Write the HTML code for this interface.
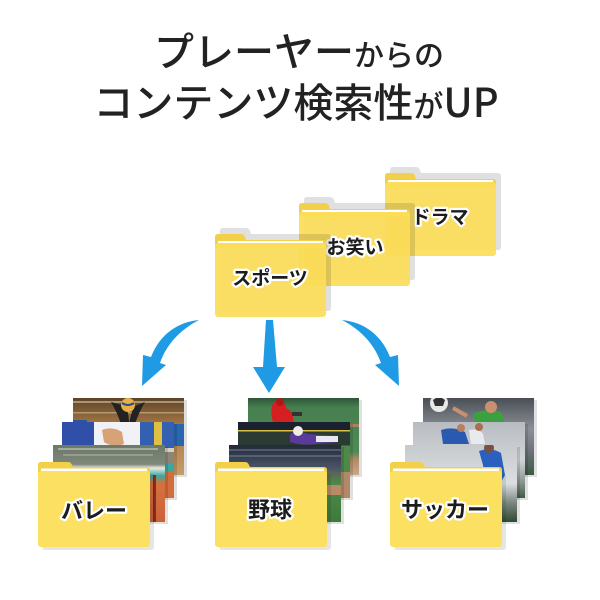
<!DOCTYPE html>
<html>
<head>
<meta charset="utf-8">
<style>
html,body{margin:0;padding:0;background:#fff;}
body{width:600px;height:600px;overflow:hidden;}
svg{display:block;}
.t{font-family:"Liberation Sans","Noto Sans CJK JP",sans-serif;font-weight:500;fill:#222;}
.up{font-family:"Noto Sans CJK JP","Liberation Sans",sans-serif;font-weight:500;}
.lbl{font-family:"Liberation Sans","Noto Sans CJK JP",sans-serif;font-weight:700;fill:#1c1c1c;stroke:#fff;stroke-width:4.5;stroke-linejoin:round;paint-order:stroke;}
</style>
</head>
<body>
<svg width="600" height="600" viewBox="0 0 600 600" xmlns="http://www.w3.org/2000/svg">
<defs>
  <g id="tf">
    <path d="M5,4 L5,-3 Q5,-6 8,-6 L31,-6 Q34,-6 35,-3 L36,0 L113,0 Q116,0 116,3 L116,74 Q116,77 113,77 L8,77 Q5,77 5,74 Z" fill="#000" fill-opacity="0.12"/>
    <path d="M0,12 L0,3 Q0,0 3,0 L26,0 Q29,0 30,3 L31,6 L108,6 Q111,6 111,9 L111,14 L0,14 Z" fill="#F2D04A"/>
    <rect x="3" y="7" width="105" height="2.5" fill="#fff"/>
    <rect x="0" y="9" width="111" height="74" rx="3" fill="#FCDD58" fill-opacity="0.92"/>
  </g>
  <g id="bf">
    <rect x="4" y="12" width="112" height="76" rx="3" fill="#000" fill-opacity="0.1"/>
    <path d="M0,12 L0,3 Q0,0 3,0 L30,0 Q33,0 34,3 L35,5 L109,5 Q112,5 112,8 L112,14 L0,14 Z" fill="#F2D04A"/>
    <rect x="3" y="6.5" width="106" height="2.5" fill="#fff"/>
    <rect x="0" y="9" width="112" height="76" rx="3" fill="#FCE062"/>
  </g>
  <linearGradient id="vb1" x1="0" y1="0" x2="0" y2="1">
    <stop offset="0" stop-color="#5e4328"/><stop offset="0.35" stop-color="#a67845"/><stop offset="1" stop-color="#c79c68"/>
  </linearGradient>
  <linearGradient id="vb3" x1="0" y1="0" x2="0" y2="1">
    <stop offset="0" stop-color="#6c7868"/><stop offset="0.25" stop-color="#7e8878"/><stop offset="0.3" stop-color="#e8e8e0"/><stop offset="0.4" stop-color="#3aa8a0"/><stop offset="0.5" stop-color="#d8703e"/><stop offset="1" stop-color="#c9623a"/>
  </linearGradient>
  <linearGradient id="bb1" x1="0" y1="0" x2="0" y2="1">
    <stop offset="0" stop-color="#2c5638"/><stop offset="0.12" stop-color="#477f50"/><stop offset="0.7" stop-color="#4f8a55"/><stop offset="0.8" stop-color="#b48a66"/><stop offset="1" stop-color="#c9a888"/>
  </linearGradient>
  <linearGradient id="bb3" x1="0" y1="0" x2="0" y2="1">
    <stop offset="0" stop-color="#222a38"/><stop offset="0.3" stop-color="#4a5468"/><stop offset="0.38" stop-color="#5c6a50"/><stop offset="0.5" stop-color="#4d8a48"/><stop offset="1" stop-color="#3e7a3c"/>
  </linearGradient>
  <linearGradient id="sb1" x1="0" y1="0" x2="0" y2="1">
    <stop offset="0" stop-color="#4a4f55"/><stop offset="0.4" stop-color="#8a9096"/><stop offset="0.7" stop-color="#6a7278"/><stop offset="1" stop-color="#3d5a40"/>
  </linearGradient>
  <linearGradient id="sb2" x1="0" y1="0" x2="0" y2="1">
    <stop offset="0" stop-color="#b8bcc0"/><stop offset="0.5" stop-color="#d0d4d8"/><stop offset="0.8" stop-color="#8a9290"/><stop offset="1" stop-color="#3d5c40"/>
  </linearGradient>
  <linearGradient id="sb3" x1="0" y1="0" x2="0" y2="1">
    <stop offset="0" stop-color="#c6cacd"/><stop offset="0.5" stop-color="#dcdfe1"/><stop offset="0.75" stop-color="#7a8680"/><stop offset="1" stop-color="#2f4a32"/>
  </linearGradient>
</defs>

<!-- Title -->
<text class="t" x="299" y="66" text-anchor="middle"><tspan font-size="40">プレーヤー</tspan><tspan font-size="30">からの</tspan></text>
<text class="t" x="296" y="117" text-anchor="middle"><tspan font-size="40">コンテンツ検索性</tspan><tspan font-size="30">が</tspan><tspan class="up" font-size="40">UP</tspan></text>

<!-- Top folders -->
<use href="#tf" x="385" y="173"/>
<text class="lbl" x="440" y="218" font-size="19" text-anchor="middle" dominant-baseline="central">ドラマ</text>
<use href="#tf" x="299" y="203"/>
<text class="lbl" x="355" y="248" font-size="19" text-anchor="middle" dominant-baseline="central">お笑い</text>
<use href="#tf" x="215" y="234"/>
<text class="lbl" x="270" y="279" font-size="19" text-anchor="middle" dominant-baseline="central">スポーツ</text>

<!-- Arrows -->
<g fill="#1E9BE4">
  <path d="M199,320 C178,322 160,334 151,357 L143,355 L142,386 L166,365 L160,363 C166,346 178,331 199,320 Z"/>
  <path d="M266,320 L273,320 L277,367 L285,367 L269,393 L253,367 L263,367 Z"/>
  <path d="M342,320 C363,322 381,334 390,357 L398,355 L399,386 L375,365 L381,363 C375,346 363,331 342,320 Z"/>
</g>

<!-- Volleyball group -->
<g>
  <rect x="76" y="400" width="111" height="77" fill="#000" fill-opacity="0.12"/>
  <svg x="73" y="398" width="111" height="77">
    <rect width="111" height="77" fill="url(#vb1)"/>
    <rect x="0" y="3" width="111" height="2" fill="#d8c6a0" opacity="0.6"/>
    <rect x="0" y="14" width="111" height="1.5" fill="#e0d0b0" opacity="0.5"/>
    <rect x="0" y="22" width="14" height="24" fill="#2a55a0"/>
    <rect x="86" y="26" width="25" height="22" fill="#2a66b0"/>
    <path d="M38,4 Q44,14 48,26 L56,26 Q56,14 52,8 Z" fill="#222"/>
    <path d="M72,4 Q66,14 62,26 L56,26 Q58,14 62,8 Z" fill="#222"/>
    <circle cx="55" cy="7" r="7" fill="#e8b040"/>
    <path d="M49,5 Q55,9 61,5" stroke="#2a4a9a" stroke-width="2" fill="none"/>
  </svg>
  <rect x="65" y="424" width="112" height="76" fill="#000" fill-opacity="0.12"/>
  <svg x="62" y="422" width="112" height="76">
    <rect width="112" height="76" fill="#d9cfc0"/>
    <rect x="0" y="0" width="32" height="34" fill="#2f4fa8"/>
    <rect x="32" y="0" width="46" height="30" fill="#f2f2f6"/>
    <path d="M40,8 Q50,4 60,10 L62,22 Q50,26 42,20 Z" fill="#d6a276"/>
    <rect x="78" y="0" width="34" height="26" fill="#3360b0"/>
    <rect x="92" y="0" width="8" height="26" fill="#e0c040"/>
    <rect x="0" y="30" width="112" height="12" fill="#8a8678"/>
    <rect x="0" y="42" width="112" height="8" fill="#3aa8a0"/>
    <rect x="0" y="50" width="112" height="26" fill="#d46c3c"/>
  </svg>
  <rect x="56" y="447" width="112" height="77" fill="#000" fill-opacity="0.12"/>
  <svg x="53" y="445" width="112" height="77">
    <rect width="112" height="77" fill="url(#vb3)"/>
    <rect x="5" y="3" width="100" height="2" fill="#c8ccc0" opacity="0.6"/>
    <rect x="10" y="9" width="90" height="2" fill="#a8b0a0" opacity="0.6"/>
    <rect x="100" y="30" width="3" height="47" fill="#8a2a1a"/>
  </svg>
  <use href="#bf" x="38" y="462"/>
  <text class="lbl" x="94" y="511" font-size="22" text-anchor="middle" dominant-baseline="central">バレー</text>
</g>

<!-- Baseball group -->
<g>
  <rect x="251" y="400" width="111" height="77" fill="#000" fill-opacity="0.12"/>
  <svg x="248" y="398" width="111" height="77">
    <rect width="111" height="77" fill="url(#bb1)"/>
    <path d="M24,8 Q26,2 32,3 Q38,4 38,10 L44,14 L46,26 L26,26 Q22,18 24,8 Z" fill="#d42020"/>
    <circle cx="32" cy="4" r="4" fill="#b01818"/>
    <rect x="44" y="14" width="10" height="4" fill="#333"/>
    <rect x="50" y="26" width="61" height="3" fill="#a88060"/>
  </svg>
  <rect x="241" y="424" width="112" height="76" fill="#000" fill-opacity="0.12"/>
  <svg x="238" y="422" width="112" height="76">
    <rect width="112" height="76" fill="#4d8a4a"/>
    <rect x="0" y="0" width="112" height="8" fill="#1a2230"/>
    <rect x="0" y="8" width="112" height="1.5" fill="#d8c040"/>
    <rect x="0" y="9.5" width="112" height="14" fill="#2b3a32"/>
    <path d="M52,12 Q60,8 70,12 L98,14 L100,20 L78,22 Q64,24 52,20 Z" fill="#5a3a9a"/>
    <circle cx="60" cy="9" r="5" fill="#f0ece6"/>
    <rect x="78" y="14" width="22" height="6" fill="#e8e8ee"/>
    <rect x="0" y="50" width="112" height="26" fill="#b08a68"/>
  </svg>
  <rect x="232" y="447" width="112" height="77" fill="#000" fill-opacity="0.12"/>
  <svg x="229" y="445" width="112" height="77">
    <rect width="112" height="77" fill="url(#bb3)"/>
    <rect x="0" y="4" width="112" height="2" fill="#6a7488" opacity="0.6"/>
    <rect x="0" y="10" width="112" height="2" fill="#7a8498" opacity="0.5"/>
    <rect x="98" y="40" width="14" height="10" fill="#b88a68"/>
  </svg>
  <use href="#bf" x="215" y="462"/>
  <text class="lbl" x="270" y="510" font-size="22" text-anchor="middle" dominant-baseline="central">野球</text>
</g>

<!-- Soccer group -->
<g>
  <rect x="426" y="400" width="111" height="77" fill="#000" fill-opacity="0.12"/>
  <svg x="423" y="398" width="111" height="77">
    <rect width="111" height="77" fill="url(#sb1)"/>
    <circle cx="16" cy="5" r="9" fill="#e8e8e8"/>
    <path d="M10,2 L16,-2 L22,2 L20,8 L12,8 Z" fill="#333"/>
    <path d="M50,16 Q60,10 78,14 L82,26 L52,26 Z" fill="#3aa040"/>
    <circle cx="68" cy="9" r="6" fill="#c89070"/>
    <path d="M30,10 L44,18" stroke="#c89070" stroke-width="4"/>
  </svg>
  <rect x="416" y="424" width="112" height="76" fill="#000" fill-opacity="0.12"/>
  <svg x="413" y="422" width="112" height="76">
    <rect width="112" height="76" fill="url(#sb2)"/>
    <path d="M28,8 Q40,4 52,10 L56,22 L30,22 Z" fill="#2a5ab0"/>
    <circle cx="48" cy="6" r="4" fill="#b88060"/>
    <path d="M56,8 Q66,6 70,12 L72,22 L58,22 Z" fill="#e8eaf0"/>
    <circle cx="66" cy="5" r="4" fill="#a87050"/>
  </svg>
  <rect x="408" y="447" width="112" height="77" fill="#000" fill-opacity="0.12"/>
  <svg x="405" y="445" width="112" height="77">
    <rect width="112" height="77" fill="url(#sb3)"/>
    <path d="M74,6 Q86,2 96,8 L100,30 L92,44 L80,40 L78,20 Z" fill="#2a60c0"/>
    <circle cx="84" cy="3" r="5" fill="#7a5040"/>
    <rect x="86" y="44" width="8" height="14" fill="#e0e0e0"/>
  </svg>
  <use href="#bf" x="390" y="462"/>
  <text class="lbl" x="445" y="510" font-size="22" text-anchor="middle" dominant-baseline="central">サッカー</text>
</g>
</svg>
</body>
</html>
